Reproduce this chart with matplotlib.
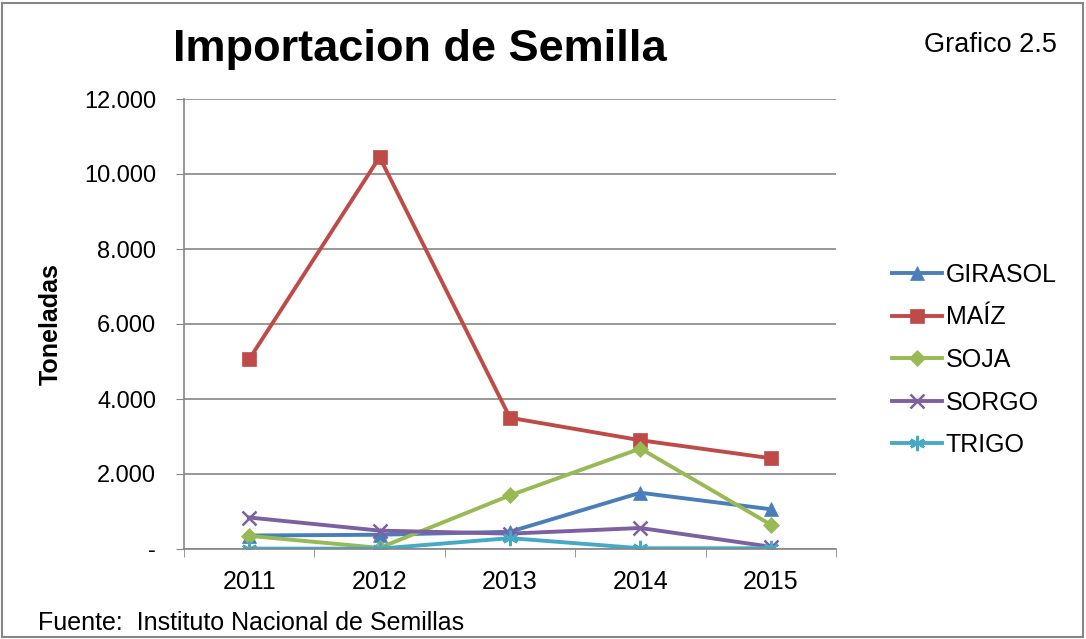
import matplotlib.pyplot as plt
import numpy as np
from matplotlib.patches import Rectangle

years = ["2011", "2012", "2013", "2014", "2015"]
series_names = ["GIRASOL", "MAÍZ", "SOJA", "SORGO", "TRIGO"]
girasol = [360, 380, 460, 1500, 1060]
maiz = [5060, 10450, 3500, 2900, 2420]
soja = [350, 30, 1430, 2680, 650]
sorgo = [840, 490, 410, 560, 60]
trigo = [10, 10, 290, 20, 20]
yticks = [0, 2000, 4000, 6000, 8000, 10000, 12000]
ytick_labels = ["-", "2.000", "4.000", "6.000", "8.000", "10.000", "12.000"]

colors = ["#4A7EBB", "#BE4B48", "#98B954", "#7D60A0", "#46AAC5"]
markers = ["^", "s", "D", "x", (6, 2, 0)]
msizes = [10, 10, 8, 10, 11]

plt.rcParams['font.family'] = ['Liberation Sans', 'DejaVu Sans']

fig = plt.figure(figsize=(10.86, 6.39), dpi=100)
ax = fig.add_axes([184/1086, 1 - 549/639, 652/1086, 450/639])

x = np.arange(len(years))
data = [girasol, maiz, soja, sorgo, trigo]
for vals, name, c, m, ms in zip(data, series_names, colors, markers, msizes):
    ax.plot(x, vals, color=c, lw=2.8, marker=m, markersize=ms,
            markeredgewidth=1.8 if m in ("x",) or isinstance(m, tuple) else 0.5,
            markeredgecolor=c, label=name)

ax.set_xlim(-0.5, 4.5)
ax.set_ylim(0, 12000)
ax.set_yticks(yticks)
ax.set_yticklabels(ytick_labels, fontsize=17)
ax.set_xticks(x)
ax.set_xticklabels(years, fontsize=18)
ax.set_xticks(np.arange(-0.5, 5, 1), minor=True)
ax.tick_params(axis='x', which='major', length=0, pad=15)
ax.tick_params(axis='x', which='minor', length=6, color='#868686', direction='out')
ax.tick_params(axis='y', length=6, color='#868686', direction='out', pad=14)
ax.grid(axis='y', color='#868686', lw=1.2)
ax.set_axisbelow(True)
for s in ['top', 'right']:
    ax.spines[s].set_visible(False)
for s in ['left', 'bottom']:
    ax.spines[s].set_color('#868686')
    ax.spines[s].set_linewidth(1.2)

ax.set_ylabel("Toneladas", fontsize=18, fontweight='bold')
ax.yaxis.set_label_coords((63 - 184) / 652, 0.5)

fig.legend(loc='center left', bbox_to_anchor=(892/1086, 1 - 360/639), frameon=False,
           fontsize=18, handlelength=2.0, handletextpad=0.15, labelspacing=0.74,
           borderpad=0, borderaxespad=0)

fig.text(420/1086, 1 - 50/639, "Importacion de Semilla", fontsize=32.5,
         fontweight='bold', ha='center', va='center')
fig.text(1057/1086, 1 - 45/639, "Grafico 2.5", fontsize=19.5, ha='right', va='center')
fig.text(38/1086, 1 - 623/639, "Fuente:  Instituto Nacional de Semillas", fontsize=18,
         ha='left', va='center')

fig.patches.append(Rectangle((0.002, 0.003), 0.995, 0.993, transform=fig.transFigure,
                             fill=False, edgecolor='#868686', lw=1.5))

fig.savefig("out.png", dpi=100)
